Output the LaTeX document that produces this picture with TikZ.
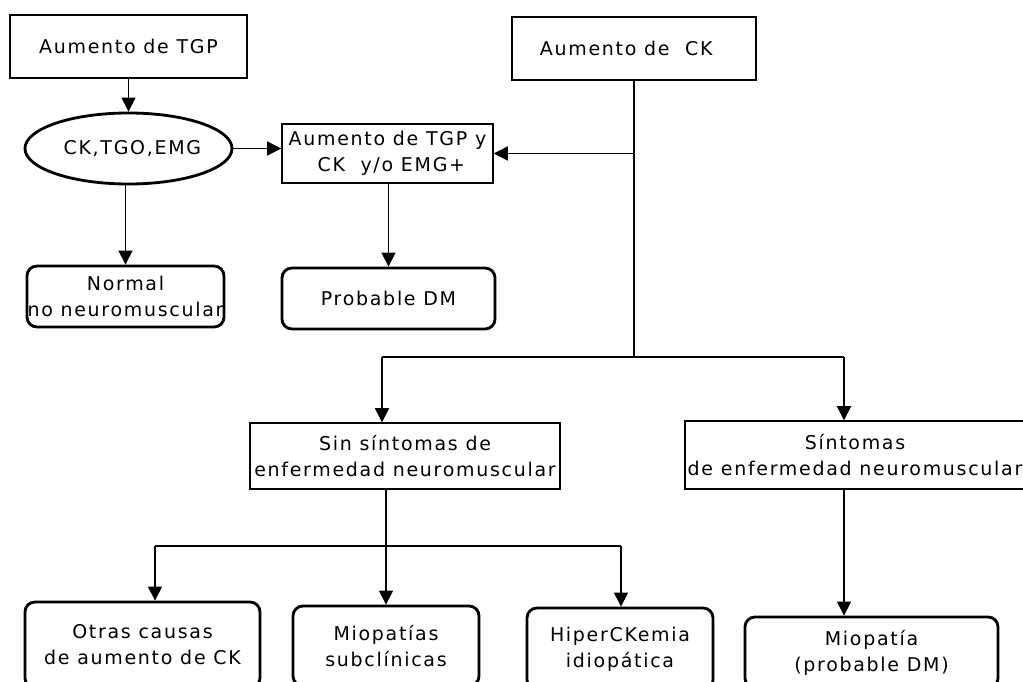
\documentclass[tikz,border=0pt]{standalone}
\usepackage{fontspec}
\setmainfont[LetterSpace=9]{DejaVu Sans}
\usetikzlibrary{arrows.meta,shapes.geometric}
\begin{document}
\begin{tikzpicture}[x=0.025cm,y=-0.025cm,
    font=\fontsize{13.5}{18.5}\selectfont,
    box/.style={draw,line width=1pt,align=center,inner sep=0pt},
    fin/.style={draw,line width=2pt,rounded corners=0.25cm,align=center,inner sep=0pt},
    arr/.style={-{Triangle[length=10pt,width=10pt]},line width=0.9pt}]
      \clip (0,0) rectangle (1023,682);
      \useasboundingbox (0,0) rectangle (1023,682);
      \node[box,minimum width=5.925cm,minimum height=1.575cm] (tgp) at (128.5,46.5) {Aumento de TGP};
      \node[box,minimum width=6.1cm,minimum height=1.575cm] (ck) at (634,48.5) {Aumento de\ \ CK\ \ };
      \node[draw,ellipse,line width=2pt,inner sep=0pt,minimum width=5.175cm,minimum height=1.775cm] (pruebas) at (128.5,148.5) {\ CK,TGO,EMG};
      \node[box,minimum width=5.275cm,minimum height=1.475cm] (ambos) at (387.5,153.5) {Aumento de TGP y\\\ CK\ \ y/o EMG+};
      \node[fin,minimum width=4.925cm,minimum height=1.525cm] (normal) at (125.5,296.5) {Normal\\no neuromuscular};
      \node[fin,minimum width=5.325cm,minimum height=1.525cm] (probdm) at (388.5,298.5) {Probable DM};
      \node[box,minimum width=7.75cm,minimum height=1.65cm] (sinsint) at (405,456) {Sin síntomas de\\enfermedad neuromuscular};
      \node[box,minimum width=8.5cm,minimum height=1.7cm] (sint) at (855,455) {Síntomas\\de enfermedad neuromuscular};
      \node[fin,minimum width=5.875cm,minimum height=2.15cm] (otras) at (142.5,645) {Otras causas\\de aumento de CK};
      \node[fin,minimum width=4.65cm,minimum height=2cm] (miosub) at (386,646) {Miopatías\\subclínicas};
      \node[fin,minimum width=4.65cm,minimum height=2.05cm] (hiper) at (620,649) {HiperCKemia\\idiopática};
      \node[fin,minimum width=6.325cm,minimum height=1.775cm] (miopat) at (871.5,652.5) {Miopatía\\(probable DM)};
      \coordinate (j1) at (634,357);
      \coordinate (j1l) at (382,357);
      \coordinate (j1r) at (844,357);
      \coordinate (j2) at (386,546);
      \coordinate (j2l) at (155,546);
      \coordinate (j2r) at (621,546);
      \draw[arr] (tgp) -- (pruebas);
      \draw[arr] (pruebas.east) -- (pruebas.east -| ambos.west);
      \draw[arr] (normal |- pruebas.south) -- (normal);
      \draw[arr] (ambos.south -| probdm) -- (probdm);
      \draw[line width=0.9pt] (ck) -- (j1);
      \draw[arr] (ck.south |- ambos.east) -- (ambos.east);
      \draw[line width=0.9pt] (j1l) -- (j1r);
      \draw[arr] (j1l) -- (j1l |- sinsint.north);
      \draw[arr] (j1r) -- (j1r |- sint.north);
      \draw[arr] (sinsint.south -| j2) -- (j2 |- miosub.north);
      \draw[line width=0.9pt] (j2l) -- (j2r);
      \draw[arr] (j2l) -- (j2l |- otras.north);
      \draw[arr] (j2r) -- (j2r |- hiper.north);
      \draw[arr] (sint.south -| j1r) -- (j1r |- miopat.north);
    \end{tikzpicture}
\end{document}
